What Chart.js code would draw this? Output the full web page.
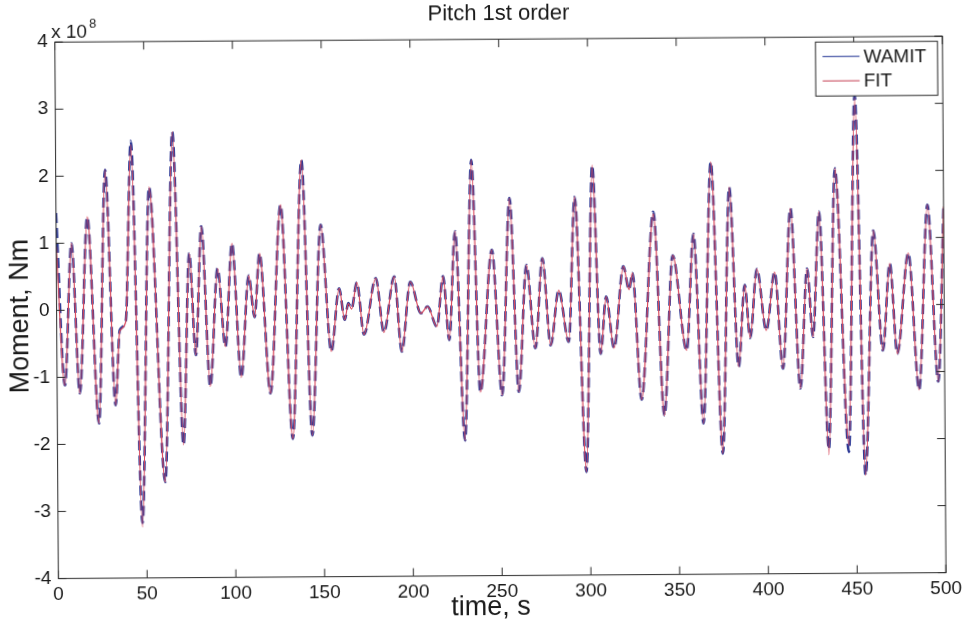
<!DOCTYPE html>
<html><head><meta charset="utf-8">
<script src="https://cdn.jsdelivr.net/npm/chart.js@4.4.1/dist/chart.umd.min.js"></script>
<style>html,body{margin:0;padding:0;background:#fff;overflow:hidden;}#wrap{width:969px;height:628px;position:relative;}
#c{transform:rotate(-0.38deg);transform-origin:500.4px 307.4px;}</style>
</head><body><div id="wrap"><canvas id="c" width="969" height="628"></canvas></div>
<script>
// ---- data (moment in units of 1e8 Nm) at its local extrema ----
const timeS = [0,4.4,8.6,12.8,17.6,23.5,27.8,32.9,35.5,38.9,42.4,47.6,52.5,60.6,65.8,71.0,74.9,78.3,81.8,86.3,90.8,95.0,99.0,103.8,108.3,111.5,114.5,120.2,126.5,132.6,138.4,143.6,149.0,154.6,159.2,162.3,164.3,166.2,169.2,173.1,179.9,184.3,190.3,194.3,199.3,205.2,209.0,214.2,217.8,221.1,224.7,229.6,234.1,238.4,245.4,250.7,255.5,260.1,264.8,269.6,273.8,278.2,282.9,288.4,292.2,297.9,302.2,306.3,309.6,313.9,319.4,322.5,324.5,329.2,336.5,342.0,347.2,354.8,359.0,364.0,369.0,374.8,379.3,384.0,387.7,390.6,394.6,399.7,404.6,409.0,413.7,418.7,422.9,426.0,429.8,434.5,438.9,445.8,450.3,455.1,460.3,465.3,469.5,473.4,480.0,485.6,490.9,496.4,500];
const wamitE8 = [1.45,-1.12,1.00,-1.24,1.39,-1.69,2.09,-1.42,-0.30,-0.17,2.52,-3.18,1.83,-2.57,2.65,-2.02,0.84,-0.68,1.24,-1.15,0.61,-0.56,0.98,-1.02,0.50,-0.12,0.83,-1.26,1.55,-1.94,2.22,-1.89,1.25,-0.64,0.30,-0.17,0.08,0.00,0.39,-0.39,0.45,-0.36,0.47,-0.65,0.39,-0.08,0.02,-0.28,0.47,-0.48,1.14,-1.98,2.20,-1.26,0.86,-1.31,1.63,-1.26,0.63,-0.61,0.73,-0.57,0.25,-0.52,1.64,-2.46,2.11,-0.70,0.15,-0.62,0.60,0.25,0.50,-1.39,1.41,-1.63,0.76,-0.66,1.08,-1.75,2.15,-2.20,1.77,-0.91,0.31,-0.48,0.55,-0.37,0.50,-0.94,1.45,-1.24,0.55,-0.47,1.40,-2.15,2.04,-2.19,3.13,-2.54,1.11,-0.68,0.62,-0.73,0.77,-1.27,1.49,-1.15,1.46];
const fitE8   = [0.95,-1.12,1.00,-1.24,1.39,-1.69,2.09,-1.42,-0.32,-0.18,2.46,-3.24,1.83,-2.57,2.65,-2.02,0.84,-0.68,1.24,-1.15,0.61,-0.56,0.98,-1.02,0.50,-0.12,0.83,-1.26,1.55,-1.94,2.22,-1.89,1.25,-0.64,0.30,-0.17,0.07,-0.01,0.39,-0.39,0.45,-0.36,0.47,-0.65,0.39,-0.08,0.02,-0.28,0.47,-0.48,1.14,-1.98,2.20,-1.26,0.86,-1.31,1.63,-1.26,0.63,-0.61,0.73,-0.57,0.25,-0.52,1.64,-2.46,2.11,-0.70,0.15,-0.62,0.60,0.25,0.50,-1.39,1.38,-1.63,0.76,-0.66,1.08,-1.75,2.15,-2.20,1.77,-0.91,0.31,-0.48,0.55,-0.37,0.50,-0.94,1.45,-1.24,0.55,-0.47,1.40,-2.23,2.04,-2.09,3.09,-2.54,1.11,-0.68,0.62,-0.73,0.77,-1.27,1.49,-1.15,1.46];
const xTicks = [0,50,100,150,200,250,300,350,400,450,500];
const yTicks = [-4,-3,-2,-1,0,1,2,3,4];
const seriesNames = ['WAMIT','FIT'];
const chartTitle = 'Pitch 1st order';
const xLabel = 'time, s';
const yLabel = 'Moment, Nm';
const yExpBase = 'x 10';
const yExp = '8';

const FONT = '"Liberation Sans", Arial, sans-serif';
const BLUE = '#2e3a96';
const RED = '#d8495c';

const toPts = vals => timeS.map((t,i)=>({x:t,y:vals[i]}));

const framePlugin = {
  id:'frame',
  afterDraw(chart){
    const {ctx, chartArea:a, scales:{x,y}} = chart;
    ctx.save();
    ctx.strokeStyle='#2a2a2a'; ctx.lineWidth=1;
    const ln=(x1,y1,x2,y2)=>{ctx.beginPath();ctx.moveTo(x1,y1);ctx.lineTo(x2,y2);ctx.stroke();};
    ctx.strokeRect(a.left, a.top, a.right-a.left, a.bottom-a.top);
    const TL=8;
    xTicks.forEach(v=>{const px=x.getPixelForValue(v); ln(px,a.bottom,px,a.bottom-TL); ln(px,a.top,px,a.top+TL);});
    yTicks.forEach(v=>{const py=y.getPixelForValue(v); ln(a.left,py,a.left+TL,py); ln(a.right,py,a.right-TL,py);});
    // legend
    const bw=122,bh=54,bx=a.right-127,by=a.top+5;
    ctx.fillStyle='#fff'; ctx.fillRect(bx,by,bw,bh);
    ctx.strokeStyle='#2a2a2a'; ctx.strokeRect(bx,by,bw,bh);
    const rows=[[seriesNames[0],'#4b5aa8',by+14.5],[seriesNames[1],'#d06474',by+39]];
    ctx.font='19px '+FONT; ctx.textBaseline='middle'; ctx.textAlign='left';
    rows.forEach(([name,col,ry])=>{
      ctx.strokeStyle=col; ctx.lineWidth=1.3; ln(bx+7,ry,bx+44,ry);
      ctx.fillStyle='#1a1a1a'; ctx.fillText(name,bx+48,ry+1);
    });
    // title and axis titles
    ctx.fillStyle='#1a1a1a';
    ctx.textAlign='center'; ctx.textBaseline='middle';
    ctx.font='22px '+FONT;
    ctx.fillText(chartTitle,(a.left+a.right)/2,14);
    ctx.font='27px '+FONT;
    ctx.fillText(xLabel,489,608);
    ctx.save(); ctx.translate(21,313); ctx.rotate(-Math.PI/2);
    ctx.fillText(yLabel,0,0); ctx.restore();
    // exponent
    ctx.textAlign='left'; ctx.textBaseline='alphabetic';
    ctx.font='19px '+FONT; ctx.fillText(yExpBase,53,35);
    ctx.font='13px '+FONT; ctx.fillText(yExp,91,25);
    ctx.restore();
  }
};

new Chart(document.getElementById('c'),{
  type:'line',
  data:{datasets:[
    {label:seriesNames[0],data:toPts(wamitE8),borderColor:BLUE,borderWidth:2.6,borderDash:[10,5],order:2,
     pointRadius:0,cubicInterpolationMode:'monotone',fill:false},
    {label:seriesNames[1],data:toPts(fitE8),borderColor:RED,borderWidth:1.2,order:1,
     pointRadius:0,cubicInterpolationMode:'monotone',fill:false}
  ]},
  options:{
    responsive:false,animation:false,devicePixelRatio:1,
    layout:{padding:{top:39.2,right:24.8,bottom:0,left:0}},
    plugins:{legend:{display:false},tooltip:{enabled:false},title:{display:false}},
    scales:{
      x:{type:'linear',min:0,max:500,
        afterBuildTicks:s=>{s.ticks=xTicks.map(v=>({value:v}));},
        afterFit:s=>{s.height=52.4;},
        grid:{display:false,drawTicks:false},border:{display:false},
        ticks:{font:{family:FONT,size:19},color:'#1a1a1a',padding:5,maxRotation:0,autoSkip:false}},
      y:{type:'linear',min:-4,max:4,
        afterBuildTicks:s=>{s.ticks=yTicks.map(v=>({value:v}));},
        afterFit:s=>{s.width=56.6;},
        grid:{display:false,drawTicks:false},border:{display:false},
        ticks:{font:{family:FONT,size:19},color:'#1a1a1a',padding:7,autoSkip:false}}
    }
  },
  plugins:[framePlugin]
});
</script></body></html>
